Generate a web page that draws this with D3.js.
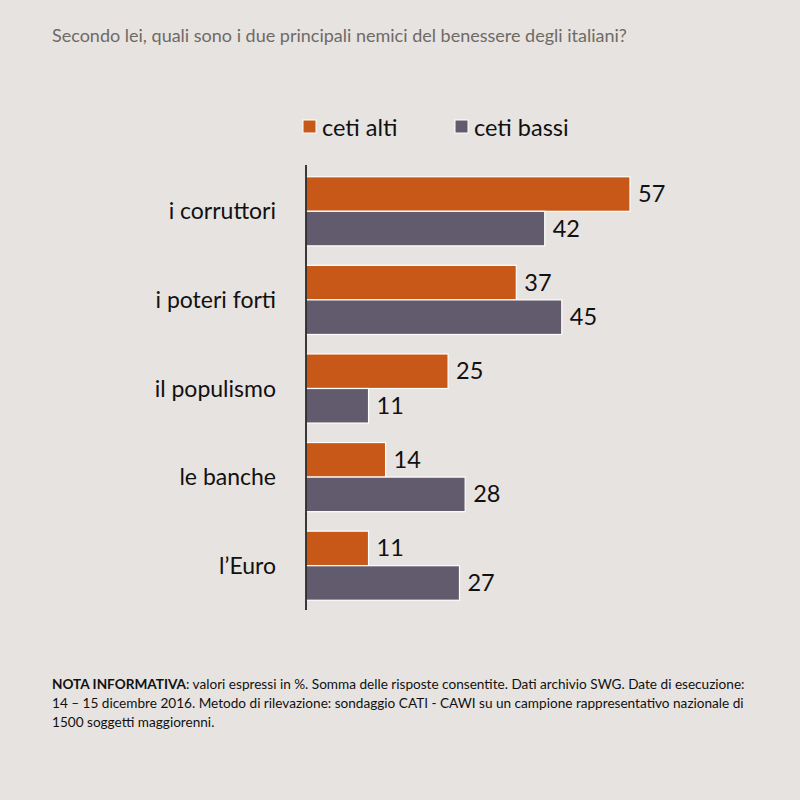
<!DOCTYPE html>
<html><head><meta charset="utf-8">
<script src="https://cdn.jsdelivr.net/npm/d3@7"></script>
<style>body{margin:0;background:#e7e3e0;}svg{display:block;font-family:Lato,"Open Sans",sans-serif;}</style>
</head><body><svg id="c" width="800" height="800"></svg>
<script>
const categories = ["i corruttori","i poteri forti","il populismo","le banche","l\u2019Euro"];
const seriesNames = ["ceti alti","ceti bassi"];
const cetiAlti = [57,37,25,14,11];
const cetiBassi = [42,45,11,28,27];
const colors = ["#c85817","#625a6d"];

const svg = d3.select("#c");
svg.append("rect").attr("width",800).attr("height",800).attr("fill","#e7e3e0");

svg.append("text").attr("x",52).attr("y",42).attr("font-size",18).attr("fill","#6e6a66")
  .text("Secondo lei, quali sono i due principali nemici del benessere degli italiani?");

const x = d3.scaleLinear().domain([0,57]).range([306,630]);
const y = d3.scaleBand().domain(categories).range([167,610]).paddingInner(0.22).paddingOuter(0.11);
const y1 = d3.scaleBand().domain(seriesNames).range([0,y.bandwidth()]);

const data = categories.map((c,i)=>({cat:c, vals:[cetiAlti[i],cetiBassi[i]]}));
const g = svg.append("g");
data.forEach(d=>{
  d.vals.forEach((v,j)=>{
    g.append("rect").attr("x",x(0)).attr("y",y(d.cat)+y1(seriesNames[j]))
      .attr("width",x(v)-x(0)).attr("height",y1.bandwidth())
      .attr("fill",colors[j]).attr("stroke","#ffffff").attr("stroke-width",1.2);
    g.append("text").attr("x",x(v)+8).attr("y",y(d.cat)+y1(seriesNames[j])+y1.bandwidth()/2+8)
      .attr("font-size",23.5).attr("fill","#111").text(v);
  });
  g.append("text").attr("x",276).attr("y",y(d.cat)+y.bandwidth()/2+8).attr("text-anchor","end")
    .attr("font-size",23).attr("fill","#111").text(d.cat);
});
svg.append("line").attr("x1",306).attr("x2",306).attr("y1",165).attr("y2",610).attr("stroke","#000").attr("stroke-width",1.5);

// legend
const lx=[303,455];
seriesNames.forEach((s,j)=>{
  svg.append("rect").attr("x",lx[j]).attr("y",120).attr("width",13).attr("height",13).attr("fill",colors[j]).attr("stroke","#fff").attr("stroke-width",1);
  svg.append("text").attr("x",lx[j]+19).attr("y",136).attr("font-size",23.5).attr("fill","#111").text(s);
});

// footer
const foot = svg.append("text").attr("font-size",13.6).attr("fill","#111");
const l1 = foot.append("tspan").attr("x",52).attr("y",689);
l1.append("tspan").attr("font-weight","bold").text("NOTA INFORMATIVA");
l1.append("tspan").text(": valori espressi in %. Somma delle risposte consentite. Dati archivio SWG. Date di esecuzione:");
foot.append("tspan").attr("x",52).attr("y",708).text("14 \u2013 15 dicembre 2016. Metodo di rilevazione: sondaggio CATI - CAWI su un campione rappresentativo nazionale di");
foot.append("tspan").attr("x",52).attr("y",727).text("1500 soggetti maggiorenni.");
</script></body></html>
